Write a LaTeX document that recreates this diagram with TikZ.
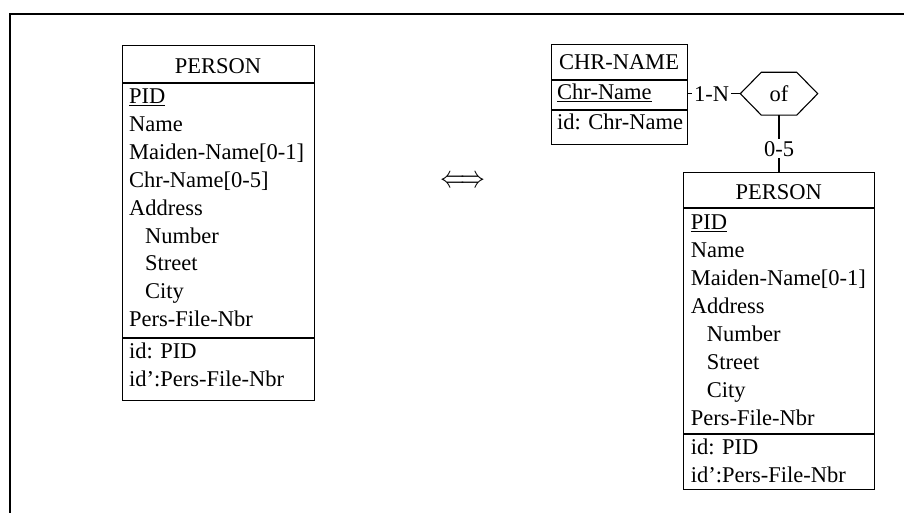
\documentclass[tikz,border=0pt]{standalone}
\usepackage{fontspec}
\usepackage{graphicx}
\setmainfont{Liberation Serif}
\begin{document}
\begin{tikzpicture}[x=1pt,y=-1pt,
  txt/.style={font=\fontsize{22.5}{27}\selectfont, inner sep=0pt},
  entity/.style={draw, line width=1.1pt, inner sep=0pt, anchor=north west},
  divider/.style={line width=1.1pt},
  title/.style={txt, anchor=base},
  attr/.style={txt, anchor=base west},
  link/.style={line width=1.1pt},
  card/.style={txt, fill=white, inner sep=2pt},
  frame/.style={line width=2pt}]
\useasboundingbox (0,0) rectangle (904,513);

% outer frame (top and left edges only)
\draw[frame] (905,14) -- (10,14) -- (10,514);

% ---------- PERSON with multivalued Chr-Name ----------
\node[entity, minimum width=192, minimum height=355] (p1) at (122,45) {};
\draw[divider] (122,83) -- (314,83);
\draw[divider] (122,338) -- (314,338);
\node[title] (p1t) at (218,73.3) {PERSON};
\node[attr] (p1a) at (129,104)   {\underline{PID}};
\node[attr] (p1b) at (129,131.8) {Name};
\node[attr] (p1c) at (129,159.6) {Maiden-Name[0-1]};
\node[attr] (p1d) at (129,187.4) {Chr-Name[0-5]};
\node[attr] (p1e) at (129,215.2) {Address};
\node[attr] (p1f) at (145,243)   {Number};
\node[attr] (p1g) at (145,270.8) {Street};
\node[attr] (p1h) at (145,298.6) {City};
\node[attr] (p1i) at (129,326.4) {Pers-File-Nbr};
\node[attr] (p1j) at (129,358.3) {id: PID};
\node[attr] (p1k) at (129,386.2) {id’:Pers-File-Nbr};

% ---------- equivalence sign ----------
\node[inner sep=0pt, font=\fontsize{30}{32}\selectfont] (eq) at (463,181.7)
  {\scalebox{1}[1.25]{$\Longleftrightarrow$}};

% ---------- CHR-NAME entity ----------
\node[entity, minimum width=136, minimum height=100] (c) at (551,44) {};
\draw[divider] (551,80) -- (687,80);
\draw[divider] (551,110) -- (687,110);
\node[title] (ct) at (619,69.3) {CHR-NAME};
\node[attr] (ca) at (557,99.3) {\underline{Chr-Name}};
\node[attr] (cb) at (557,129.3) {id: Chr-Name};

% ---------- relationship "of" ----------
\node[txt, minimum width=77, minimum height=42.5] (of) at (779,93.7) {of};
\draw[link] (of.west) -- ([xshift=21]of.north west) -- ([xshift=-21]of.north east)
  -- (of.east) -- ([xshift=-21]of.south east) -- ([xshift=21]of.south west) -- cycle;

% ---------- PERSON without Chr-Name ----------
\node[entity, minimum width=190.7, minimum height=317] (p2) at (683.3,172) {};
\draw[divider] (683.3,208) -- (874,208);
\draw[divider] (683.3,434) -- (874,434);
\node[title] (p2t) at (778.7,199.7) {PERSON};
\node[attr] (p2a) at (690.7,229.7) {\underline{PID}};
\node[attr] (p2b) at (690.7,257.6) {Name};
\node[attr] (p2c) at (690.7,285.5) {Maiden-Name[0-1]};
\node[attr] (p2d) at (690.7,313.4) {Address};
\node[attr] (p2e) at (706.7,341.3) {Number};
\node[attr] (p2f) at (706.7,369.2) {Street};
\node[attr] (p2g) at (706.7,397.1) {City};
\node[attr] (p2h) at (690.7,425)   {Pers-File-Nbr};
\node[attr] (p2i) at (690.7,454.3) {id: PID};
\node[attr] (p2j) at (690.7,482)   {id’:Pers-File-Nbr};

% ---------- roles ----------
\draw[link] (c.east |- of.west) -- node[card, pos=0.45] (r1) {1-N} (of.west);
\draw[link] (of.south) -- node[card, pos=0.59] (r2) {0-5} (of.south |- p2.north);
\end{tikzpicture}
\end{document}
